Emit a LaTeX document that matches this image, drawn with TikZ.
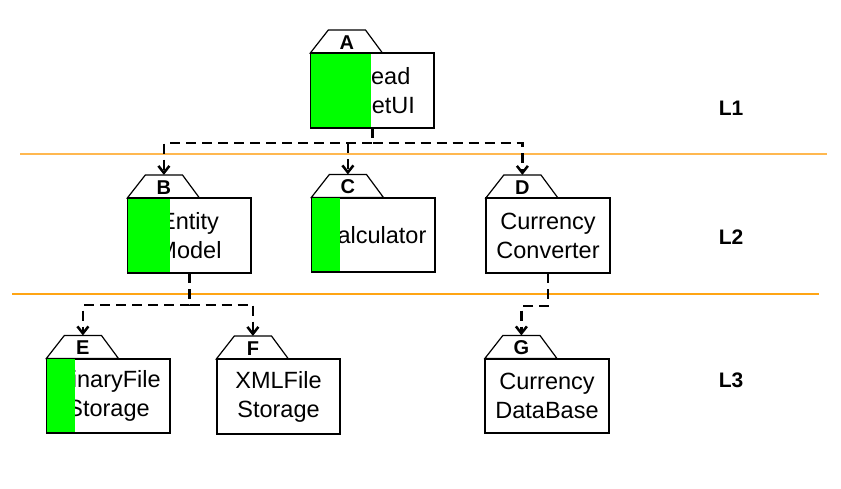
\documentclass[tikz,border=0pt]{standalone}
\usepackage{fontspec}
\setmainfont{Liberation Sans}
\usetikzlibrary{arrows.meta,calc}
\definecolor{grn}{RGB}{0,255,0}
\definecolor{orA}{RGB}{255,184,80}
\definecolor{orB}{RGB}{255,165,20}
\newcommand\pkgbox[5]{%
  \node[body] (#1) at (#2) {#4};
  \path[tabshape] (#1.north west) -- ++(18,-23) -- ++(37,0) -- ($(#1.north west)+(72,0)$) -- cycle;
  \node[tablab] (#1l) at ($(#1.north west)+(36.5,-10.5)$) {#3};
  \coordinate (#1t) at ($(#1.north west)+(36.5,-23)$);
  \fill[grn] (#1.north west) rectangle ++(#5,74);
  \draw[line width=1.2pt] (#1.north west) rectangle (#1.south east);
}
\begin{document}
\begin{tikzpicture}[x=1pt,y=-1pt,
  body/.style={draw,line width=1.2pt,fill=white,minimum width=123pt,minimum height=74pt,inner sep=0pt,align=center,font=\fontsize{23.5}{29}\selectfont},
  tabshape/.style={draw,line width=1.2pt,fill=white,line join=miter},
  tablab/.style={font=\fontsize{20}{20}\selectfont\bfseries,inner sep=0pt},
  lev/.style={font=\fontsize{21}{21}\selectfont\bfseries,inner sep=0pt},
  conn/.style={line width=2.5pt,dash pattern=on 10pt off 6pt},
  arr/.style={conn,-{Straight Barb[length=7pt,width=11pt]}},
]
\useasboundingbox (0,0) rectangle (841,488);
\fill[white] (0,0) rectangle (841,488);

\draw[orA,line width=1.5pt] (20,154) -- (827,154);
\draw[orB,line width=1.5pt] (12,294) -- (819,294);

\pkgbox{A}{372.5,90.5}{A}{Spread\\SheetUI}{61}
\pkgbox{B}{189.5,235.5}{B}{Entity\\Model}{43}
\pkgbox{C}{373.5,235}{C}{Calculator}{29}
\pkgbox{D}{548,235.5}{D}{Currency\\Converter}{0}
\pkgbox{E}{108.5,396}{E}{BinaryFile\\Storage}{29}
\pkgbox{F}{278.5,396.5}{F}{XMLFile\\Storage}{0}
\pkgbox{G}{547,396}{G}{Currency\\DataBase}{0}

\draw[arr] (A.south) -- ++(0,15) coordinate (a1) -| (Bt);
\draw[arr] (a1) -| (Dt);
\draw[arr] (a1 -| Ct) -- (Ct);

\draw[arr] (B.south) -- ++(0,32) coordinate (b1) -| (Et);
\draw[arr] (b1) -| (Ft);

\draw[arr] (D.south) -- ++(0,33) -| (Gt);

\node[lev] (L1) at (731,108) {L1};
\node[lev] (L2) at (731,237) {L2};
\node[lev] (L3) at (731,380) {L3};
\end{tikzpicture}
\end{document}
